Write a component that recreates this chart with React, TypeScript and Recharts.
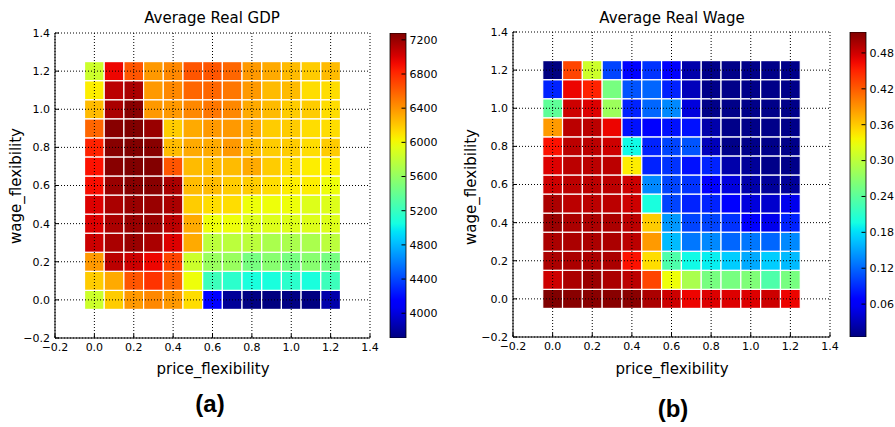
import React from 'react';
import { ScatterChart, Scatter, XAxis, YAxis, CartesianGrid, BarChart, Bar } from 'recharts';

// Parameter grid (both axes run 0.0 … 1.2 in steps of 0.1)
const priceLevels = [0, 0.1, 0.2, 0.3, 0.4, 0.5, 0.6, 0.7, 0.8, 0.9, 1.0, 1.1, 1.2];
const wageLevels = [0, 0.1, 0.2, 0.3, 0.4, 0.5, 0.6, 0.7, 0.8, 0.9, 1.0, 1.1, 1.2];

// Average real GDP; row i = wage level i, column j = price level j
const gdpRows = [
  [5845, 6188, 6380, 6445, 6380, 6123, 4138, 3789, 3720, 3710, 3725, 3715, 3842],
  [6188, 6316, 6637, 6766, 6573, 5991, 5220, 5145, 5070, 5070, 5145, 5070, 5220],
  [6380, 7098, 7044, 6941, 6702, 5845, 5624, 5624, 5477, 5549, 5477, 5549, 5477],
  [7044, 7148, 7201, 7148, 6991, 6316, 5770, 5770, 5770, 5698, 5698, 5698, 5770],
  [6991, 7148, 7201, 7201, 7098, 6316, 5991, 5991, 5920, 5920, 5920, 5920, 5920],
  [6991, 7148, 7201, 7201, 7148, 6188, 6123, 6123, 5991, 5991, 5991, 5920, 5920],
  [6910, 7201, 7255, 7255, 7148, 6252, 6252, 6188, 6188, 6123, 6059, 6059, 5991],
  [6894, 7255, 7280, 7270, 6637, 6252, 6252, 6252, 6316, 6188, 6123, 6059, 6059],
  [6830, 7255, 7275, 7255, 6252, 6316, 6316, 6380, 6252, 6188, 6188, 6123, 6188],
  [6573, 7255, 7280, 7201, 6188, 6316, 6380, 6380, 6316, 6188, 6188, 6123, 6123],
  [6252, 7148, 7255, 6380, 6380, 6445, 6509, 6445, 6316, 6252, 6188, 6188, 6123],
  [6059, 7098, 7148, 6380, 6445, 6573, 6573, 6509, 6380, 6252, 6252, 6123, 6123],
  [5845, 6941, 6637, 6380, 6445, 6637, 6637, 6573, 6380, 6316, 6252, 6188, 6252],
];

// Average real wage; same layout
const wageRows = [
  [0.515, 0.511, 0.511, 0.511, 0.511, 0.496, 0.481, 0.467, 0.474, 0.474, 0.474, 0.481, 0.467],
  [0.481, 0.496, 0.504, 0.496, 0.489, 0.432, 0.331, 0.289, 0.257, 0.257, 0.262, 0.231, 0.257],
  [0.496, 0.496, 0.496, 0.496, 0.460, 0.350, 0.231, 0.194, 0.188, 0.171, 0.154, 0.171, 0.162],
  [0.496, 0.496, 0.496, 0.496, 0.489, 0.386, 0.162, 0.128, 0.137, 0.120, 0.128, 0.120, 0.137],
  [0.504, 0.496, 0.496, 0.496, 0.489, 0.359, 0.145, 0.103, 0.103, 0.094, 0.066, 0.053, 0.086],
  [0.496, 0.489, 0.489, 0.489, 0.481, 0.199, 0.103, 0.086, 0.086, 0.066, 0.046, 0.039, 0.053],
  [0.481, 0.489, 0.489, 0.489, 0.481, 0.137, 0.103, 0.094, 0.066, 0.046, 0.024, 0.016, 0.016],
  [0.474, 0.489, 0.489, 0.489, 0.341, 0.086, 0.094, 0.077, 0.086, 0.024, 0.016, 0.009, 0.009],
  [0.460, 0.489, 0.489, 0.481, 0.194, 0.086, 0.103, 0.111, 0.031, 0.009, 0.009, 0.009, 0.009],
  [0.386, 0.489, 0.489, 0.467, 0.077, 0.066, 0.077, 0.077, 0.024, 0.009, 0.009, 0.009, 0.009],
  [0.242, 0.481, 0.474, 0.280, 0.086, 0.120, 0.137, 0.046, 0.009, 0.009, 0.009, 0.009, 0.009],
  [0.086, 0.467, 0.451, 0.257, 0.111, 0.120, 0.086, 0.031, 0.009, 0.009, 0.009, 0.009, 0.009],
  [0.005, 0.432, 0.310, 0.103, 0.070, 0.094, 0.060, 0.024, 0.009, 0.009, 0.009, 0.009, 0.009],
];

const axisTicks = [-0.2, 0, 0.2, 0.4, 0.6, 0.8, 1.0, 1.2, 1.4];
const gdpBarTicks = [4000, 4400, 4800, 5200, 5600, 6000, 6400, 6800, 7200];
const wageBarTicks = [0.06, 0.12, 0.18, 0.24, 0.3, 0.36, 0.42, 0.48];

// Jet colormap (piecewise-linear channels)
const JET: Record<string, number[][]> = {
  r: [[0, 0], [0.35, 0], [0.66, 1], [0.89, 1], [1, 0.5]],
  g: [[0, 0], [0.125, 0], [0.375, 1], [0.64, 1], [0.91, 0], [1, 0]],
  b: [[0, 0.5], [0.11, 1], [0.34, 1], [0.65, 0], [1, 0]],
};
const channel = (seg: number[][], t: number) => {
  for (let i = 1; i < seg.length; i++) {
    if (t <= seg[i][0]) {
      const [x0, y0] = seg[i - 1];
      const [x1, y1] = seg[i];
      return y0 + ((t - x0) / (x1 - x0)) * (y1 - y0);
    }
  }
  return seg[seg.length - 1][1];
};
const jet = (t: number) => {
  const c = Math.max(0, Math.min(1, t));
  const f = (k: string) => Math.round(channel(JET[k], c) * 255);
  return `rgb(${f('r')},${f('g')},${f('b')})`;
};

const toPoints = (rows: number[][]) =>
  rows.flatMap((row, i) => row.map((v, j) => ({ p: priceLevels[j], w: wageLevels[i], v })));

const fmtAxis = (v: number) => (Math.abs(v) < 1e-9 ? '0.0' : v.toFixed(1)).replace('-', '\u2212');

const FONT = "'DejaVu Sans', sans-serif";
const tickStyle = { fontSize: 11, fill: '#000', fontFamily: FONT };

type PanelProps = {
  rows: number[][];
  left: number;
  width: number;
  yAxisWidth: number;
  top: number;
  plotBottom: number;
  rightMargin: number;
  barLeft: number;
  barWidth: number;
  barTicks: number[];
  barFmt: (v: number) => string;
  gradId: string;
};

function HeatPanel(props: PanelProps) {
  const { rows, left, width, yAxisWidth, top, plotBottom, rightMargin, barLeft, barWidth, barTicks, barFmt, gradId } = props;
  const H = 427;
  const xAxisH = 30;
  const points = toPoints(rows);
  const flat = rows.flat();
  const lo = Math.min(...flat);
  const hi = Math.max(...flat);
  const plotW = width - yAxisWidth - rightMargin;
  const plotH = plotBottom - top;
  const cellW = (plotW * 0.1) / 1.6;
  const cellH = (plotH * 0.1) / 1.6;

  const cellShape = (s: any) => {
    const { cx, cy, payload } = s;
    if (cx == null || cy == null) return <g />;
    return (
      <rect
        x={cx - cellW / 2}
        y={cy - cellH / 2}
        width={cellW}
        height={cellH}
        fill={jet((payload.v - lo) / (hi - lo))}
        stroke="#fff"
        strokeWidth={1.2}
      />
    );
  };

  const stops = Array.from({ length: 41 }, (_, i) => i / 40);
  const barMarginLeft = 10;
  const barPlotW = 15.5;

  return (
    <>
      <div style={{ position: 'absolute', left, top: 0 }}>
        <ScatterChart
          width={width}
          height={H}
          margin={{ top, right: rightMargin, bottom: H - plotBottom - xAxisH, left: 0 }}
        >
          <XAxis
            type="number"
            dataKey="p"
            domain={[-0.2, 1.4]}
            ticks={axisTicks}
            allowDataOverflow
            height={xAxisH}
            tickFormatter={fmtAxis}
            tick={tickStyle}
            tickSize={-4}
            tickMargin={9}
            axisLine={{ stroke: '#000' }}
            tickLine={{ stroke: '#000' }}
          />
          <XAxis
            xAxisId="top"
            orientation="top"
            type="number"
            dataKey="p"
            domain={[-0.2, 1.4]}
            ticks={axisTicks}
            allowDataOverflow
            height={0}
            tick={false}
            tickSize={-4}
            axisLine={{ stroke: '#000' }}
            tickLine={{ stroke: '#000' }}
          />
          <YAxis
            type="number"
            dataKey="w"
            domain={[-0.2, 1.4]}
            ticks={axisTicks}
            allowDataOverflow
            width={yAxisWidth}
            tickFormatter={fmtAxis}
            tick={tickStyle}
            tickSize={-4}
            tickMargin={9}
            axisLine={{ stroke: '#000' }}
            tickLine={{ stroke: '#000' }}
          />
          <YAxis
            yAxisId="right"
            orientation="right"
            type="number"
            dataKey="w"
            domain={[-0.2, 1.4]}
            ticks={axisTicks}
            allowDataOverflow
            width={0}
            tick={false}
            tickSize={-4}
            axisLine={{ stroke: '#000' }}
            tickLine={{ stroke: '#000' }}
          />
          <Scatter data={points} shape={cellShape} isAnimationActive={false} />
          <CartesianGrid stroke="#000" strokeDasharray="1 2" strokeWidth={1} zIndex={600} />
        </ScatterChart>
      </div>
      <div style={{ position: 'absolute', left: barLeft - barMarginLeft, top: 0 }}>
        <BarChart
          width={barMarginLeft + barPlotW + barWidth}
          height={H}
          data={[{ k: 'scale', span: [lo, hi] }]}
          margin={{ top, right: 0, bottom: H - plotBottom, left: barMarginLeft }}
          barCategoryGap={0}
        >
          <defs>
            <linearGradient id={gradId} x1="0" y1="1" x2="0" y2="0">
              {stops.map((t) => (
                <stop key={t} offset={t} stopColor={jet(t)} />
              ))}
            </linearGradient>
          </defs>
          <XAxis dataKey="k" hide height={0} />
          <Bar dataKey="span" fill={`url(#${gradId})`} stroke="#000" strokeWidth={0.8} isAnimationActive={false} />
          <YAxis
            orientation="right"
            type="number"
            domain={[lo, hi]}
            ticks={barTicks}
            allowDataOverflow
            width={barWidth}
            axisLine={false}
            tickSize={-4}
            tickMargin={8}
            tickFormatter={barFmt}
            tick={tickStyle}
            tickLine={{ stroke: '#000' }}
          />
        </BarChart>
      </div>
    </>
  );
}

export default function App() {
  const titleStyle = { fontSize: 15, fontFamily: FONT, fill: '#000' } as const;
  const tagStyle = { fontSize: 24, fontFamily: "'Liberation Sans', Arial, sans-serif", fontWeight: 700, fill: '#000' } as const;
  return (
    <div style={{ position: 'absolute', left: 0, top: 0, width: 895, height: 427, background: '#fff', overflow: 'hidden' }}>
      <HeatPanel
        rows={gdpRows}
        left={0}
        width={385}
        yAxisWidth={55}
        top={33}
        plotBottom={338}
        rightMargin={15}
        barLeft={390}
        barWidth={45}
        barTicks={gdpBarTicks}
        barFmt={(v) => String(v)}
        gradId="jetGdp"
      />
      <HeatPanel
        rows={wageRows}
        left={455}
        width={390}
        yAxisWidth={58}
        top={32}
        plotBottom={337}
        rightMargin={15}
        barLeft={850}
        barWidth={29}
        barTicks={wageBarTicks}
        barFmt={(v) => v.toFixed(2)}
        gradId="jetWage"
      />
      <svg width={895} height={427} style={{ position: 'absolute', left: 0, top: 0, pointerEvents: 'none' }}>
        <text x={212} y={23} textAnchor="middle" style={titleStyle}>Average Real GDP</text>
        <text x={672} y={23} textAnchor="middle" style={titleStyle}>Average Real Wage</text>
        <text x={213} y={374} textAnchor="middle" style={titleStyle}>price_flexibility</text>
        <text x={672} y={374} textAnchor="middle" style={titleStyle}>price_flexibility</text>
        <text transform="translate(21,186) rotate(-90)" textAnchor="middle" style={titleStyle}>wage_flexibility</text>
        <text transform="translate(476,187) rotate(-90)" textAnchor="middle" style={titleStyle}>wage_flexibility</text>
        <text x={210} y={412} textAnchor="middle" style={tagStyle}>(a)</text>
        <text x={673} y={417} textAnchor="middle" style={tagStyle}>(b)</text>
      </svg>
    </div>
  );
}
